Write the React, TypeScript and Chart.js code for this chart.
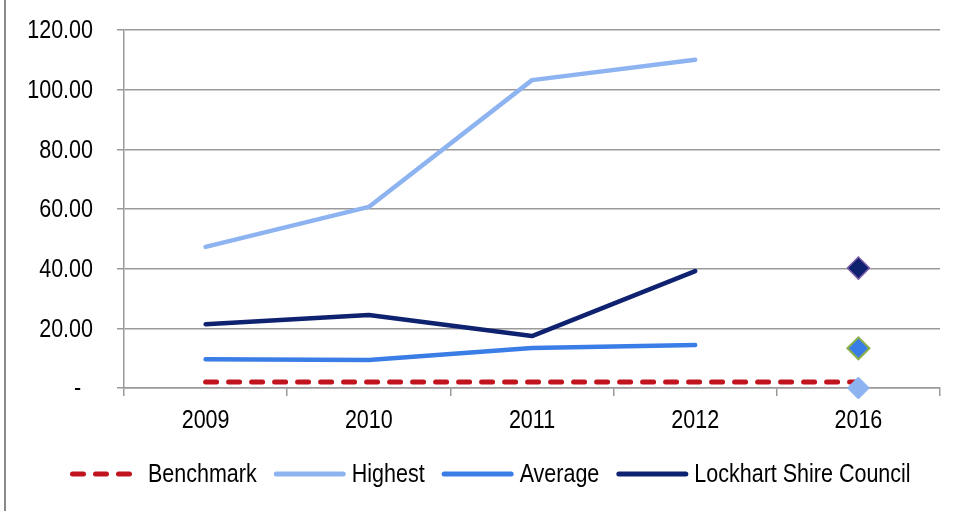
import React, { useEffect, useRef } from "react";
import { Chart, registerables } from "chart.js";

Chart.register(...registerables);

const categories = ["2009", "2010", "2011", "2012", "2016"];
const benchmark = [2, 2, 2, 2, 2];
const highest = [47.3, 60.7, 103.2, 110, null];
const average = [9.6, 9.4, 13.4, 14.4, null];
const lockhart = [21.4, 24.5, 17.4, 39.2, null];
const highest2016 = [null, null, null, null, 0];
const average2016 = [null, null, null, null, 13.3];
const lockhart2016 = [null, null, null, null, 40.2];
const yTicks = [0, 20, 40, 60, 80, 100, 120];

const FONT = "'Liberation Sans', Arial, sans-serif";
const FONT_SIZE = 25;
const SQUEEZE = 0.86;
const RED = "#C0141E";
const LIGHT = "#8DB4F0";
const MID = "#3B7DE6";
const NAVY = "#0F2270";
const GRID = "#9A9A9A";

const legendItems = [
  { label: "Benchmark", color: RED, dash: [11, 12] },
  { label: "Highest", color: LIGHT, dash: [] },
  { label: "Average", color: MID, dash: [] },
  { label: "Lockhart Shire Council", color: NAVY, dash: [] },
];

const yLabel = (v: number) => (v === 0 ? "-  " : v.toFixed(2));

function squeezedText(ctx: any, text: string, x: number, y: number, align: string) {
  ctx.save();
  ctx.translate(x, y);
  ctx.scale(SQUEEZE, 1);
  ctx.textAlign = align;
  ctx.fillText(text, 0, 0);
  ctx.restore();
}

const customPlugin = {
  id: "custom",
  afterDraw(chart: any) {
    const ctx = chart.ctx;
    ctx.save();
    // left frame line
    ctx.strokeStyle = "#8A8A8A";
    ctx.lineWidth = 2;
    ctx.beginPath();
    ctx.moveTo(5, 0);
    ctx.lineTo(5, chart.height);
    ctx.stroke();

    ctx.font = FONT_SIZE + "px " + FONT;
    ctx.textBaseline = "middle";
    ctx.fillStyle = "#000";

    // y tick labels
    const ys = chart.scales.y;
    const yRight = ys.right - 31;
    ys.ticks.forEach((t: any) => {
      squeezedText(ctx, yLabel(t.value), yRight, ys.getPixelForValue(t.value) + 1.5, "right");
    });
    // x tick labels
    const xs = chart.scales.x;
    categories.forEach((c, i) => {
      squeezedText(ctx, c, xs.getPixelForValue(i), xs.top + 33, "center");
    });

    // legend
    const y = 474;
    let x = 70;
    legendItems.forEach((it, i) => {
      const len = i === 0 ? 63 : 72;
      ctx.strokeStyle = it.color;
      ctx.lineWidth = 5;
      ctx.lineCap = "round";
      ctx.setLineDash(it.dash);
      ctx.beginPath();
      ctx.moveTo(x + 2.5, y);
      ctx.lineTo(x + len - 2.5, y);
      ctx.stroke();
      ctx.setLineDash([]);
      const tx = x + len + (i === 0 ? 15 : 6);
      squeezedText(ctx, it.label, tx, y + 1, "left");
      x = tx + ctx.measureText(it.label).width * SQUEEZE + 17;
    });
    ctx.restore();
  },
};

export default function App() {
  const ref = useRef<HTMLCanvasElement>(null);
  useEffect(() => {
    const lineDs = (label: string, data: any[], color: string, extra: any = {}) => ({
      label,
      data,
      borderColor: color,
      backgroundColor: color,
      borderWidth: 4.5,
      pointRadius: 0,
      pointHoverRadius: 0,
      tension: 0,
      borderJoinStyle: "round",
      borderCapStyle: "round",
      spanGaps: false,
      order: 2,
      ...extra,
    });
    const markerDs = (label: string, data: any[], fill: string, border: string, bw: number) => ({
      label,
      data,
      showLine: false,
      pointStyle: "rectRot",
      pointRadius: 11,
      pointHoverRadius: 11,
      pointBackgroundColor: fill,
      pointBorderColor: border,
      pointBorderWidth: bw,
      backgroundColor: fill,
      borderColor: border,
      clip: false,
      order: 0,
    });
    const chart = new Chart(ref.current!, {
      type: "line",
      data: {
        labels: categories,
        datasets: [
          lineDs("Benchmark", benchmark, RED, { borderDash: [11, 12], borderWidth: 5, borderCapStyle: "round", order: 3 }),
          lineDs("Highest", highest, LIGHT),
          lineDs("Average", average, MID),
          lineDs("Lockhart Shire Council", lockhart, NAVY, { order: 1 }),
          markerDs("Highest 2016", highest2016, LIGHT, LIGHT, 1),
          markerDs("Average 2016", average2016, MID, "#8DB04A", 2),
          markerDs("Lockhart 2016", lockhart2016, NAVY, "#7A5CA6", 1.5),
        ] as any,
      },
      options: {
        animation: false,
        responsive: false,
        maintainAspectRatio: false,
        events: [],
        layout: { padding: { left: 0, top: 30, right: 18, bottom: 0 } },
        plugins: {
          legend: { display: false },
          tooltip: { enabled: false },
        },
        scales: {
          x: {
            offset: true,
            grid: {
              display: true,
              drawOnChartArea: false,
              drawTicks: true,
              tickLength: 8,
              color: GRID,
              lineWidth: 1.5,
              offset: true,
            },
            border: { display: true, color: GRID, width: 1.5 },
            ticks: {
              color: "rgba(0,0,0,0)",
              font: { family: FONT, size: 8 },
              padding: 2,
              maxRotation: 0,
            },
            afterFit(scale: any) {
              scale.height = 123;
            },
          },
          y: {
            min: 0,
            max: 120,
            afterBuildTicks(scale: any) {
              scale.ticks = yTicks.map((v) => ({ value: v }));
            },
            grid: {
              color: GRID,
              lineWidth: 1.5,
              tickLength: 7,
              drawTicks: true,
            },
            border: { display: true, color: GRID, width: 1.5 },
            ticks: {
              color: "rgba(0,0,0,0)",
              font: { family: FONT, size: 8 },
              padding: 2,
              callback: (v: any) => yLabel(Number(v)),
            },
            afterFit(scale: any) {
              scale.width = 124;
            },
          },
        },
      } as any,
      plugins: [customPlugin],
    });
    return () => chart.destroy();
  }, []);
  return (
    <div style={{ position: "fixed", left: 0, top: 0, width: 958, height: 511, background: "#fff" }}>
      <canvas ref={ref} width={958} height={511} style={{ width: 958, height: 511, display: "block" }} />
    </div>
  );
}
